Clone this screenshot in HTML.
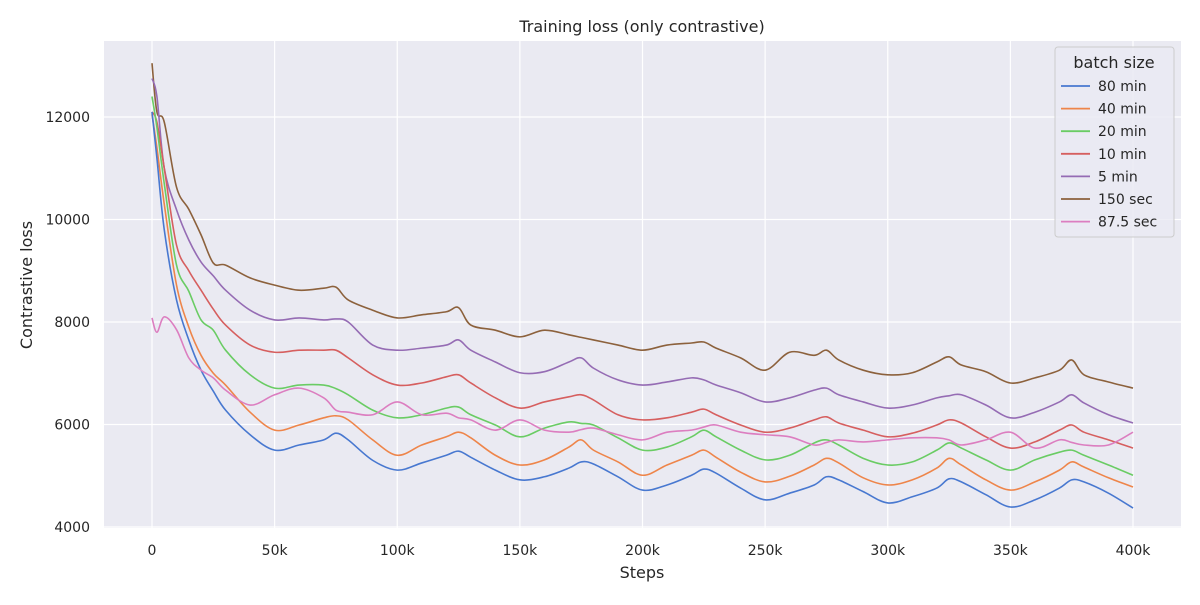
<!DOCTYPE html>
<html><head><meta charset="utf-8"><style>
body{margin:0;background:#fff;font-family:"Liberation Sans","DejaVu Sans",sans-serif;}
svg text{fill:#262626;font-family:"DejaVu Sans","Liberation Sans",sans-serif;}
</style></head><body>
<svg id="chart" width="1200" height="600">
<rect x="104" y="41" width="1077" height="487" fill="#eaeaf2"/>
<g id="grid"></g><g id="series"></g><g id="axes"></g>
<text x="642" y="32" text-anchor="middle" font-size="16">Training loss (only contrastive)</text>
<text x="642" y="578" text-anchor="middle" font-size="16">Steps</text>
<text x="32" y="285" text-anchor="middle" font-size="16" transform="rotate(-90 32 285)">Contrastive loss</text>
<g id="legend"></g>
</svg>
<script>
const xTicks=[0,50000,100000,150000,200000,250000,300000,350000,400000];
const xTickLabels=["0","50k","100k","150k","200k","250k","300k","350k","400k"];
const yTicks=[4000,6000,8000,10000,12000];
const seriesNames=["80 min","40 min","20 min","10 min","5 min","150 sec","87.5 sec"];
const colors=["#4878d0","#ee854a","#6acc64","#d65f5f","#956cb4","#8c613c","#dc7ec0"];
const stepsK=[0,2,5,10,15,20,25,30,40,50,60,70,75,80,90,100,110,120,125,130,140,150,160,170,175,180,190,200,210,220,225,230,240,250,260,270,275,280,290,300,310,320,325,330,340,350,360,370,375,380,390,400];
const loss80=[12100,11200,9800,8430,7650,7060,6650,6280,5800,5500,5600,5700,5830,5700,5300,5110,5250,5400,5480,5360,5110,4920,4980,5150,5270,5230,4980,4720,4820,5010,5130,5050,4760,4530,4660,4820,4980,4920,4690,4470,4590,4760,4940,4880,4630,4390,4530,4760,4920,4880,4660,4370];
const loss40=[12050,11400,10300,8720,7900,7350,7000,6770,6240,5890,5990,6130,6170,6090,5700,5400,5600,5760,5850,5740,5400,5210,5310,5560,5700,5500,5270,5010,5210,5400,5500,5360,5070,4880,4990,5210,5340,5250,4960,4820,4920,5150,5340,5210,4920,4720,4880,5110,5270,5170,4960,4780];
const loss20=[12400,11800,10700,9110,8600,8040,7840,7450,6970,6710,6770,6770,6700,6580,6280,6130,6190,6320,6340,6190,5990,5760,5930,6050,6020,5990,5740,5500,5560,5760,5890,5760,5500,5310,5400,5640,5700,5600,5340,5210,5270,5500,5640,5540,5310,5110,5310,5460,5500,5400,5210,5010];
const loss10=[12100,11900,11000,9500,9000,8620,8250,7940,7550,7410,7450,7450,7450,7300,6970,6770,6810,6930,6970,6810,6520,6320,6440,6540,6580,6480,6190,6090,6130,6240,6300,6190,5990,5850,5930,6090,6150,6030,5890,5760,5830,5990,6090,6030,5760,5540,5660,5890,5990,5850,5700,5540];
const loss5=[12750,12400,11000,10190,9600,9170,8900,8620,8230,8040,8080,8040,8060,8000,7550,7450,7490,7550,7650,7450,7220,7010,7030,7220,7300,7100,6870,6770,6830,6910,6870,6770,6620,6440,6520,6670,6710,6580,6440,6320,6380,6520,6560,6580,6380,6130,6240,6440,6580,6420,6190,6030];
const loss150=[13050,12100,11900,10630,10200,9700,9150,9110,8860,8720,8620,8660,8680,8430,8230,8080,8140,8200,8280,7940,7840,7710,7840,7750,7700,7650,7550,7450,7550,7590,7610,7490,7300,7060,7410,7350,7450,7260,7060,6970,7010,7220,7320,7160,7030,6810,6910,7060,7260,6970,6830,6710];
const loss87=[8080,7800,8100,7850,7300,7060,6910,6670,6380,6580,6710,6520,6280,6240,6190,6440,6190,6220,6130,6090,5890,6090,5890,5850,5900,5930,5800,5700,5850,5890,5950,5990,5850,5800,5760,5600,5650,5700,5660,5700,5740,5740,5700,5600,5700,5850,5540,5700,5650,5600,5600,5850];
const allLoss=[loss80,loss40,loss20,loss10,loss5,loss150,loss87];
const NS="http://www.w3.org/2000/svg";
const X=v=>152+(v/400000)*981;
const Y=v=>527-(v-4000)/8000*410;
function mk(tag,attrs,parent){const e=document.createElementNS(NS,tag);for(const k in attrs)e.setAttribute(k,attrs[k]);parent.appendChild(e);return e;}
const grid=document.getElementById('grid'),axes=document.getElementById('axes');
xTicks.forEach((t,i)=>{
 const l=mk('line',{x1:X(t),x2:X(t),y1:41,y2:528,stroke:'#fff','stroke-width':1.2},grid);
 
 
 const tx=mk('text',{x:X(t),y:555,'text-anchor':'middle','font-size':14},axes);
 tx.textContent=xTickLabels[i];
 
 
});
yTicks.forEach(t=>{
 const l=mk('line',{x1:104,x2:1181,y1:Y(t),y2:Y(t),stroke:'#fff','stroke-width':1.2},grid);
 
 
 const tx=mk('text',{x:90,y:Y(t)+5,'text-anchor':'end','font-size':14},axes);
 tx.textContent=String(t);
 
 
});
const sg=document.getElementById('series');
function smooth(pts){let d=`M${pts[0][0]},${pts[0][1]}`;for(let i=0;i<pts.length-1;i++){const p0=pts[Math.max(0,i-1)],p1=pts[i],p2=pts[i+1],p3=pts[Math.min(pts.length-1,i+2)];const c1=[p1[0]+(p2[0]-p0[0])/6,p1[1]+(p2[1]-p0[1])/6],c2=[p2[0]-(p3[0]-p1[0])/6,p2[1]-(p3[1]-p1[1])/6];d+=`C${c1[0]},${c1[1]} ${c2[0]},${c2[1]} ${p2[0]},${p2[1]}`;}return d;}
[5,4,3,2,1,0,6].forEach(s=>{
 const pts=stepsK.map((k,i)=>[X(k*1000),Y(allLoss[s][i])]);
 const p=mk('path',{d:smooth(pts),fill:'none',stroke:colors[s],'stroke-width':1.6},sg);
 
 
});
const lg=document.getElementById('legend');
const box=mk('rect',{x:1055,y:47,width:119,height:190,rx:3,fill:'#eaeaf2','fill-opacity':0.8,stroke:'#cccccc'},lg);


const lt=mk('text',{x:1114,y:68,'text-anchor':'middle','font-size':16},lg);
lt.textContent='batch size';


seriesNames.forEach((n,i)=>{
 const y=86+i*22.6;
 const ln=mk('line',{x1:1061,x2:1090,y1:y,y2:y,stroke:colors[i],'stroke-width':1.8},lg);
 
 
 const t=mk('text',{x:1098,y:y+5,'font-size':14},lg);
 t.textContent=n;
 
 
});
</script>
</body></html>
